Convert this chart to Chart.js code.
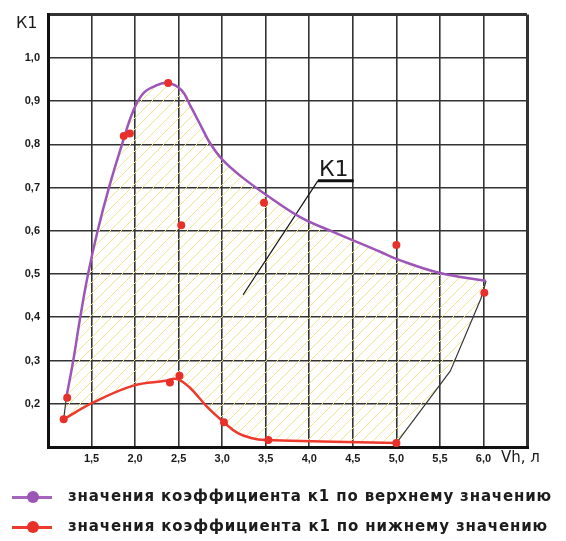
<!DOCTYPE html>
<html>
<head>
<meta charset="utf-8">
<script src="https://cdn.jsdelivr.net/npm/chart.js@4.4.1/dist/chart.umd.min.js"></script>
<style>
    html, body { margin: 0; padding: 0; background: #fff; }
    #wrap { position: relative; width: 566px; height: 541px; }
    #chart { position: absolute; left: 0; top: 0; }
    .leg { position: absolute; left: 0; width: 566px; height: 20px; }
    .leg .ln { position: absolute; left: 12px; top: 9px; width: 40px; height: 3px; }
    .leg .dot { position: absolute; left: 27px; top: 4px; width: 12px; height: 12px; border-radius: 50%; }
    .leg .tx { position: absolute; left: 68px; top: 0; line-height: 20px; white-space: nowrap;
               font: bold 15px "DejaVu Sans", sans-serif; color: #1c1c1c; }
</style>
</head>
<body>
<div id="wrap">
    <canvas id="chart" width="566" height="541"></canvas>
    <div class="leg" style="top:487px">
        <div class="ln" style="background:#a565bd"></div>
        <div class="dot" style="background:#9a55b5"></div>
        <span class="tx" id="leg1">значения коэффициента к1 по верхнему значению</span>
    </div>
    <div class="leg" style="top:517px">
        <div class="ln" style="background:#ee3a2c"></div>
        <div class="dot" style="background:#e8302a"></div>
        <span class="tx" id="leg2">значения коэффициента к1 по нижнему значению</span>
    </div>
</div>
<script>
// upper boundary (purple)
const upperX = [1.21, 1.29, 1.37, 1.46, 1.57, 1.70, 1.85, 1.98, 2.09, 2.21, 2.37, 2.53, 2.64, 2.76, 2.86, 3.00, 3.21, 3.52, 3.90, 4.28, 4.82, 5.00, 5.49, 6.03];
const upperY = [0.214, 0.30, 0.40, 0.50, 0.60, 0.70, 0.80, 0.878, 0.917, 0.933, 0.942, 0.926, 0.887, 0.841, 0.803, 0.765, 0.727, 0.681, 0.631, 0.597, 0.551, 0.535, 0.503, 0.484];

// lower boundary (red)
const lowerX = [1.18, 1.52, 1.98, 2.35, 2.48, 2.63, 2.83, 3.02, 3.18, 3.33, 3.50, 4.14, 5.00];
const lowerY = [0.164, 0.203, 0.242, 0.253, 0.257, 0.237, 0.192, 0.157, 0.132, 0.121, 0.116, 0.113, 0.109];

// measured points (red dots)
const dotX = [1.18, 1.22, 1.87, 1.94, 2.38, 2.40, 2.51, 2.53, 3.02, 3.48, 3.53, 5.00, 5.00, 6.01];
const dotY = [0.164, 0.214, 0.819, 0.825, 0.942, 0.249, 0.265, 0.613, 0.157, 0.665, 0.116, 0.567, 0.109, 0.457];

// thin black closing lines
const rightEdgeX = [6.03, 5.97, 5.62, 5.00];
const rightEdgeY = [0.484, 0.443, 0.276, 0.109];
const leftEdgeX = [1.18, 1.21];
const leftEdgeY = [0.164, 0.214];

// "К1" callout leader
const leaderX = [3.24, 4.10, 4.51];
const leaderY = [0.452, 0.716, 0.716];

const xLabelValues = [1.5, 2.0, 2.5, 3.0, 3.5, 4.0, 4.5, 5.0, 5.5, 6.0];
const yLabelValues = [0.2, 0.3, 0.4, 0.5, 0.6, 0.7, 0.8, 0.9, 1.0];

const pts = (xs, ys) => xs.map((x, i) => ({ x: x, y: ys[i] }));
const fmt = v => v.toFixed(1).replace('.', ',');
const r2 = v => Math.round(v * 100) / 100;

// closed outline for the hatched area
const shapePts = pts(upperX, upperY)
    .concat(pts(rightEdgeX, rightEdgeY).slice(1))
    .concat(pts(lowerX, lowerY).reverse().slice(1));

// diagonal yellow hatch
function makeHatch() {
    const c = document.createElement('canvas');
    c.width = 11; c.height = 11;
    const g = c.getContext('2d');
    g.strokeStyle = '#f0e692';
    g.lineWidth = 1;
    g.beginPath();
    g.moveTo(0, 11); g.lineTo(11, 0);
    g.stroke();
    return g.createPattern(c, 'repeat');
}

const labelsPlugin = {
    id: 'labels',
    afterDraw(chart) {
        const { ctx, scales: { x, y } } = chart;
        ctx.save();
        ctx.fillStyle = '#1a1a1a';
        ctx.textBaseline = 'middle';
        ctx.textAlign = 'left';
        ctx.font = '16px "DejaVu Sans"';
        ctx.fillText('К1', 16, 24);
        ctx.font = '15px "DejaVu Sans"';
        ctx.fillText('Vh, л', 501, 458);
        ctx.font = '22px "DejaVu Sans"';
        ctx.textBaseline = 'alphabetic';
        ctx.fillText('К1', x.getPixelForValue(leaderX[1]) + 1, y.getPixelForValue(leaderY[1]) - 5);
        ctx.restore();
    }
};

new Chart(document.getElementById('chart'), {
    type: 'scatter',
    data: {
        datasets: [
            {
                data: dotX.map((x, i) => ({ x: x, y: dotY[i] })),
                showLine: false,
                pointRadius: 4,
                pointBackgroundColor: '#e8302a',
                pointBorderWidth: 0,
                order: 0
            },
            {
                data: pts(upperX, upperY),
                showLine: true,
                borderColor: '#9d55b8',
                borderWidth: 2.5,
                pointRadius: 0,
                tension: 0.4,
                order: 1
            },
            {
                data: pts(lowerX, lowerY),
                showLine: true,
                borderColor: '#ee3a2c',
                borderWidth: 2.5,
                pointRadius: 0,
                tension: 0.4,
                order: 1
            },
            {
                data: pts(rightEdgeX, rightEdgeY),
                showLine: true,
                borderColor: '#3a3a3a',
                borderWidth: 1.2,
                pointRadius: 0,
                order: 2
            },
            {
                data: pts(leftEdgeX, leftEdgeY),
                showLine: true,
                borderColor: '#3a3a3a',
                borderWidth: 1.2,
                pointRadius: 0,
                order: 2
            },
            {
                data: pts(leaderX, leaderY),
                showLine: true,
                borderColor: '#111',
                borderWidth: 1.2,
                pointRadius: 0,
                segment: { borderWidth: c => c.p0DataIndex === 1 ? 3 : 1.2 },
                order: 2
            },
            {
                data: shapePts,
                showLine: true,
                fill: 'shape',
                backgroundColor: makeHatch(),
                borderWidth: 0,
                borderColor: 'rgba(0,0,0,0)',
                pointRadius: 0,
                order: 3
            }
        ]
    },
    options: {
        responsive: false,
        animation: false,
        devicePixelRatio: 1,
        layout: { padding: { left: 0, top: 10, right: 39, bottom: 0 } },
        plugins: { legend: { display: false }, tooltip: { enabled: false } },
        scales: {
            x: {
                type: 'linear',
                min: 1.0,
                max: 6.5,
                afterFit: s => { s.height = 94; },
                border: { display: true, width: 3, color: '#111' },
                grid: {
                    drawTicks: false,
                    color: c => (Math.abs(c.tick.value * 2 - Math.round(c.tick.value * 2)) < 1e-6) ? '#333' : 'rgba(0,0,0,0)',
                    lineWidth: c => (r2(c.tick.value) === 6.5 || r2(c.tick.value) === 1.0) ? 3 : 1.6
                },
                ticks: {
                    stepSize: 0.25,
                    autoSkip: false,
                    maxRotation: 0,
                    padding: 5,
                    color: '#1a1a1a',
                    font: { family: 'Liberation Sans', size: 11, weight: 'bold' },
                    callback: v => xLabelValues.includes(r2(v)) ? fmt(v) : ''
                }
            },
            y: {
                min: 0.1,
                max: 1.1,
                afterFit: s => { s.width = 48; },
                border: { display: true, width: 3, color: '#111' },
                grid: {
                    drawTicks: false,
                    color: '#333',
                    lineWidth: c => (r2(c.tick.value) === 1.1) ? 3 : 1.6
                },
                ticks: {
                    stepSize: 0.1,
                    autoSkip: false,
                    padding: 8,
                    color: '#1a1a1a',
                    font: { family: 'Liberation Sans', size: 11, weight: 'bold' },
                    callback: v => yLabelValues.includes(r2(v)) ? fmt(v) : ''
                }
            }
        }
    },
    plugins: [labelsPlugin]
});

// stretch legend text to the width used in the original
[['leg1', 484], ['leg2', 480]].forEach(([id, target]) => {
    const el = document.getElementById(id);
    const n = el.textContent.length;
    const w = el.getBoundingClientRect().width;
    el.style.letterSpacing = ((target - w) / n) + 'px';
});
</script>
</body>
</html>
